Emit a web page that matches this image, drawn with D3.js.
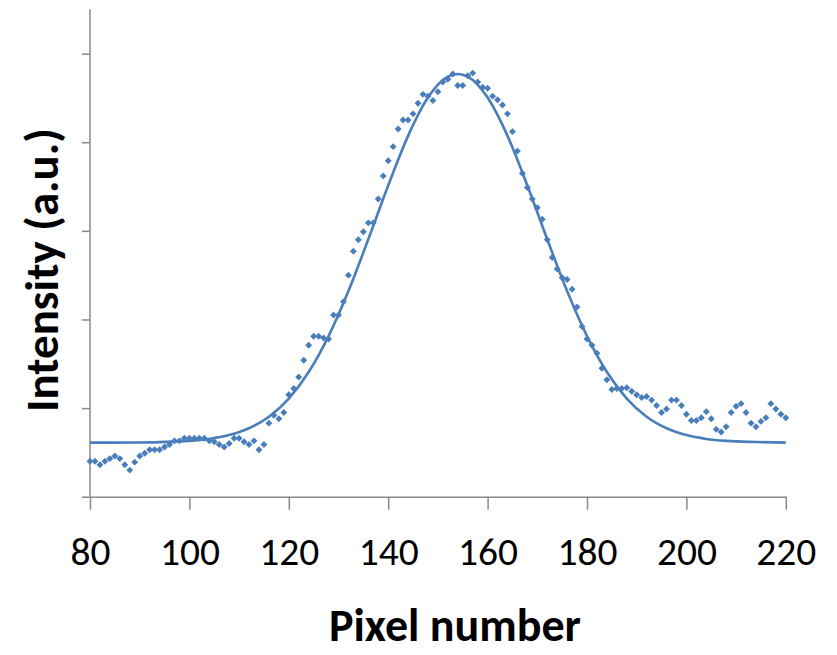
<!DOCTYPE html>
<html>
<head>
<meta charset="utf-8">
<script src="https://cdn.jsdelivr.net/npm/d3@7"></script>
<style>
  html, body { margin: 0; padding: 0; background: #fff; }
  svg { display: block; }
</style>
</head>
<body>
<svg id="chart" width="837" height="655"></svg>
<script>
// ---- Data ----
const pixelStart = 80;
const measured = [
  0.40, 0.40, 0.36, 0.40, 0.43, 0.46, 0.43, 0.36, 0.30, 0.39,   // 80-89
  0.46, 0.49, 0.53, 0.53, 0.53, 0.56, 0.59, 0.63, 0.63, 0.66,   // 90-99
  0.66, 0.66, 0.66, 0.66, 0.63, 0.62, 0.59, 0.56, 0.60, 0.66,   // 100-109
  0.66, 0.62, 0.59, 0.63, 0.53, 0.59, 0.83, 0.92, 0.88, 0.95,   // 110-119
  1.15, 1.22, 1.35, 1.54, 1.71, 1.81, 1.81, 1.79, 1.78, 2.05,   // 120-129
  2.05, 2.20, 2.50, 2.77, 2.90, 2.99, 3.09, 3.09, 3.36, 3.62,   // 130-139
  3.79, 3.95, 4.15, 4.25, 4.25, 4.32, 4.44, 4.54, 4.52, 4.47,   // 140-149
  4.57, 4.68, 4.71, 4.77, 4.64, 4.64, 4.75, 4.78, 4.68, 4.62,   // 150-159
  4.61, 4.52, 4.48, 4.42, 4.32, 4.12, 3.90, 3.65, 3.49, 3.36,   // 160-169
  3.26, 3.13, 2.90, 2.70, 2.57, 2.47, 2.45, 2.34, 2.14, 1.92,   // 170-179
  1.78, 1.71, 1.62, 1.45, 1.32, 1.21, 1.22, 1.22, 1.23, 1.19,   // 180-189
  1.15, 1.12, 1.13, 1.09, 1.03, 0.95, 0.99, 1.09, 1.09, 1.03,   // 190-199
  0.93, 0.86, 0.86, 0.89, 0.96, 0.88, 0.76, 0.73, 0.79, 0.95,   // 200-209
  1.02, 1.05, 0.95, 0.83, 0.79, 0.85, 0.89, 1.05, 0.99, 0.93,   // 210-219
  0.89                                                           // 220
];
// Fitted curve
const fitX = [80, 90, 100, 104, 108, 112, 116, 120, 124, 128, 132, 136, 140, 144, 148, 152, 154,
              156, 160, 164, 168, 172, 176, 180, 184, 188, 192, 196, 200, 204, 208, 214, 220];
const fitY = [0.61, 0.612, 0.63, 0.652, 0.695, 0.773, 0.903, 1.108, 1.407, 1.812, 2.320, 2.905, 3.512, 4.072, 4.504, 4.740, 4.77,
              4.740, 4.504, 4.072, 3.512, 2.905, 2.320, 1.812, 1.407, 1.108, 0.903, 0.773, 0.695, 0.652, 0.63, 0.617, 0.61];
const xTicks = [80, 100, 120, 140, 160, 180, 200, 220];
const yTicks = [0, 1, 2, 3, 4, 5];
const xTitle = "Pixel number";
const yTitle = "Intensity (a.u.)";

// ---- Drawing ----
const svg = d3.select("#chart");
const blue = "#4A7EBB";
const axisGray = "#898989";
const font = "Carlito, Lato, 'Open Sans', sans-serif";

const x = d3.scaleLinear().domain([80, 220]).range([90, 785.8]);
const y = d3.scaleLinear().domain([0, 5.5]).range([496.7, 9.3]);

const points = measured.map((v, i) => ({ px: pixelStart + i, v }));
const fit = fitX.map((xx, i) => ({ px: xx, v: fitY[i] }));

// Axes
const gx = svg.append("g").attr("transform", `translate(0,${y(0)})`)
  .call(d3.axisBottom(x).tickValues(xTicks).tickSize(13).tickSizeOuter(0).tickFormat(d3.format("d")));
const gy = svg.append("g").attr("transform", `translate(${x(80)},0)`)
  .call(d3.axisLeft(y).tickValues(yTicks).tickSize(8).tickSizeOuter(0).tickFormat(""));
svg.selectAll(".domain, .tick line").attr("stroke", axisGray).attr("stroke-width", 1.5);
gy.select(".domain").attr("d", `M0,${y(5.5)}V${y(0)}`);

gx.selectAll(".tick text")
  .attr("y", 68).attr("dy", null)
  .attr("fill", "#000")
  .style("font-family", font)
  .style("font-size", "36px");
// scale tick label size so "100" spans ~60px like the reference
(function () {
  const t = gx.selectAll(".tick text").filter(d => d === 100).node();
  const w = t.getComputedTextLength();
  const fs = 36 * 60 / w;
  gx.selectAll(".tick text").style("font-size", fs + "px");
})();

// Fitted line
svg.append("path")
  .datum(fit)
  .attr("fill", "none")
  .attr("stroke", blue)
  .attr("stroke-width", 2.6)
  .attr("d", d3.line().x(d => x(d.px)).y(d => y(d.v)).curve(d3.curveMonotoneX));

// Measured points (diamonds)
const diamond = d3.symbol().type(d3.symbolSquare).size(24);
svg.append("g").selectAll("path")
  .data(points)
  .join("path")
  .attr("d", diamond)
  .attr("transform", d => `translate(${x(d.px)},${y(d.v)}) rotate(45)`)
  .attr("fill", blue);

// Titles
function fitText(sel, targetWidth, base) {
  sel.style("font-size", base + "px");
  const w = sel.node().getComputedTextLength();
  sel.style("font-size", (base * targetWidth / w) + "px");
}
const xt = svg.append("text")
  .attr("x", 455).attr("y", 641)
  .attr("text-anchor", "middle")
  .style("font-family", font).style("font-weight", "bold")
  .attr("fill", "#000")
  .text(xTitle);
fitText(xt, 252, 42);

const yt = svg.append("text")
  .attr("transform", "translate(58,270) rotate(-90)")
  .attr("text-anchor", "middle")
  .style("font-family", font).style("font-weight", "bold")
  .attr("fill", "#000")
  .text(yTitle);
fitText(yt, 284, 42);
</script>
</body>
</html>
